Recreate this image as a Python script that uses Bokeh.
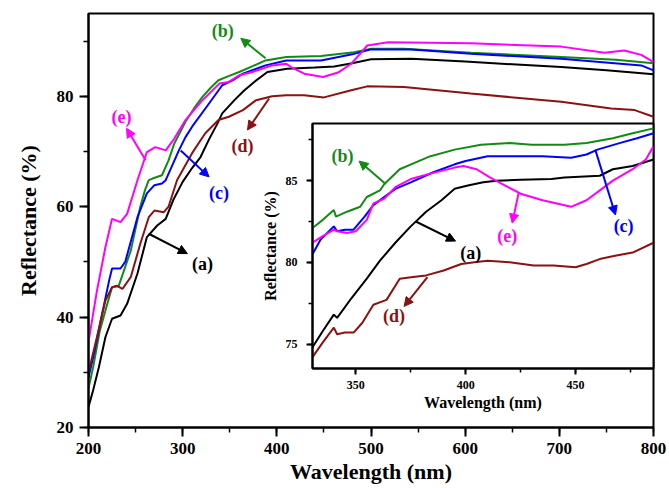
from bokeh.plotting import figure
from bokeh.models import Range1d, SingleIntervalTicker, Arrow, NormalHead, Label
from bokeh.layouts import column
from bokeh.embed import file_html
from bokeh.resources import INLINE

FONT = "Liberation Serif"

# ---------------- data (main panel) ----------------
wl_a = [200, 205, 211, 218, 225, 234, 241, 252, 262, 273, 282, 290, 300, 310, 319, 328, 337, 342, 355, 365,
        376, 390, 411, 440, 461, 480, 500, 543, 600, 650, 702, 750, 800]
r_a = [23.7, 26.8, 30.9, 36.4, 39.7, 40.3, 42.4, 47.9, 54.5, 56.6, 57.8, 61.2, 64.5, 67.0, 69.0, 72.2, 75.1, 76.9,
       79.3, 81.0, 82.6, 84.4, 85.0, 85.2, 85.4, 86.0, 86.7, 86.8, 86.3, 85.8, 85.3, 84.7, 84.0]

wl_b = [200, 205, 212, 218, 225, 232, 245, 255, 260, 264, 268, 278, 285, 291, 303, 312, 321, 330, 338, 348,
        360, 375, 388, 410, 447, 482, 500, 535, 606, 702, 760, 800]
r_b = [27.1, 31.0, 37.5, 41.2, 45.4, 45.6, 52.1, 60.0, 63.0, 64.8, 65.1, 65.7, 68.4, 71.4, 75.4, 77.8, 79.9, 81.6,
       82.9, 83.6, 84.4, 85.5, 86.5, 87.1, 87.3, 88.0, 88.6, 88.6, 87.9, 87.1, 86.6, 86.0]

wl_c = [200, 206, 213, 222, 225, 234, 239, 252, 262, 270, 278, 282, 296, 303, 310, 328, 342, 353, 364, 388,
        410, 447, 480, 500, 543, 606, 702, 787, 800]
r_c = [29.1, 33.5, 39.4, 46.7, 48.8, 48.8, 50.0, 58.1, 62.4, 63.9, 64.2, 64.8, 70.2, 72.6, 74.5, 78.7, 82.0, 82.9,
       84.1, 85.6, 86.5, 86.5, 87.6, 88.5, 88.5, 87.7, 86.8, 85.6, 84.7]

wl_d = [200, 209, 218, 225, 230, 236, 245, 255, 264, 270, 280, 285, 294, 310, 324, 338, 349, 364, 378, 395,
        410, 429, 450, 479, 496, 535, 606, 702, 755, 780, 800]
r_d = [30.0, 36.4, 43.0, 45.4, 45.7, 45.1, 47.3, 53.3, 58.1, 59.3, 59.0, 60.0, 64.8, 69.7, 73.3, 75.7, 76.3, 77.5,
       79.3, 80.0, 80.2, 80.2, 79.8, 81.1, 81.8, 81.7, 80.5, 79.0, 77.8, 77.5, 76.3]

wl_e = [200, 209, 218, 225, 234, 241, 252, 262, 271, 282, 291, 303, 321, 339, 349, 360, 374, 395, 410, 415,
        429, 449, 465, 479, 490, 496, 518, 606, 702, 748, 769, 787, 800]
r_e = [35.5, 44.8, 52.7, 57.8, 57.2, 58.7, 64.8, 69.9, 70.8, 70.2, 72.3, 75.7, 79.3, 82.3, 82.6, 83.8, 84.4, 85.6,
       85.9, 85.3, 84.1, 83.5, 84.3, 85.9, 88.0, 89.2, 89.8, 89.6, 89.0, 87.9, 88.3, 87.5, 86.2]

# ---------------- data (inset) ----------------
iwl_a = [330.3, 335, 340, 341.5, 348, 355, 361, 368, 375, 382, 389, 395, 401, 408, 414, 425, 439, 445, 461, 467,
         476, 485.5]
ir_a = [74.8, 75.8, 76.8, 76.6, 77.8, 79.0, 80.1, 81.2, 82.2, 83.1, 83.8, 84.5, 84.7, 84.9, 85.0, 85.05, 85.1,
        85.2, 85.3, 85.7, 85.9, 86.3]

iwl_b = [330.3, 335, 340, 341, 346, 352, 355, 361, 363, 370, 377, 384, 395, 407, 420, 430, 445, 455, 467, 476,
         485.5]
ir_b = [82.1, 82.6, 83.2, 82.8, 83.1, 83.4, 84.0, 84.4, 84.8, 85.7, 86.1, 86.5, 86.9, 87.2, 87.3, 87.2, 87.2, 87.3,
        87.6, 87.9, 88.2]

iwl_c = [330.3, 334, 340, 341.5, 345, 349, 354, 358, 362, 368, 375, 385, 395, 400, 410, 420, 435, 448, 455, 460,
         470, 478, 485.5]
ir_c = [80.5, 81.4, 82.2, 81.9, 82.0, 82.0, 82.8, 83.5, 83.9, 84.5, 84.9, 85.5, 86.0, 86.2, 86.5, 86.5, 86.5, 86.4,
        86.6, 86.9, 87.3, 87.6, 87.9]

iwl_d = [330.3, 335, 340, 341.5, 345, 349, 353, 358, 364, 370, 376, 382, 390, 398, 404, 410, 420, 431, 440, 450,
         455, 461, 468, 476, 485.5]
ir_d = [74.2, 75.1, 76.0, 75.6, 75.7, 75.7, 76.3, 77.4, 77.7, 79.0, 79.1, 79.2, 79.5, 79.9, 80.0, 80.1, 80.0, 79.8,
        79.8, 79.7, 79.9, 80.2, 80.4, 80.6, 81.2]

iwl_e = [330.3, 335, 340, 341.5, 346, 350, 355, 358, 363, 368, 375, 383, 389, 395, 399, 405, 411, 418, 425, 435,
         448, 455, 462, 467, 476, 482, 485.5]
ir_e = [81.2, 81.6, 82.0, 81.9, 81.8, 81.9, 82.6, 83.6, 83.9, 84.6, 85.1, 85.4, 85.6, 85.8, 85.9, 85.7, 85.2, 84.7,
        84.2, 83.8, 83.4, 83.8, 84.5, 85.0, 85.7, 86.3, 87.1]

series_names = ["(a)", "(b)", "(c)", "(d)", "(e)"]
colors = ["#000000", "#138a13", "#0000ff", "#8b1212", "#ff00ff"]

# annotation placement: label (x, y), arrow start (x, y), arrow end (x, y)
main_notes = [
    ((321, 49.6), (264, 55.1), (305, 51.5)),
    ((342.6, 91.8), (388, 86.9), (361.7, 90.5)),
    ((338.6, 62.5), (297.9, 70.2), (328, 65.4)),
    ((363.5, 71.0), (391.8, 79.6), (368.8, 73.9)),
    ((235, 76.2), (260.6, 68.4), (240.4, 74.2)),
]
inset_notes = [
    ((402.3, 80.6), (377.3, 82.5), (395.4, 81.3)),
    ((344, 86.5), (363.6, 84.8), (351.5, 86.2)),
    ((471.9, 82.2), (459, 86.9), (468.2, 82.9)),
    ((367.4, 76.7), (382.6, 79.1), (372, 77.3)),
    ((418.9, 81.6), (424.2, 84.3), (421.2, 82.4)),
]


def style_axes(fig, tick_font, label_font, tick_out, minor_out, lab_stand, axlab_stand_x, axlab_stand_y):
    for ax in (fig.xaxis[0], fig.yaxis[0]):
        ax.axis_line_width = 2
        ax.axis_line_color = "black"
        ax.major_tick_line_width = 2
        ax.minor_tick_line_width = 1.5
        ax.major_tick_in = 0
        ax.minor_tick_in = 0
        ax.major_tick_out = tick_out
        ax.minor_tick_out = minor_out
        ax.major_label_text_font = FONT
        ax.major_label_text_font_style = "bold"
        ax.major_label_text_font_size = tick_font
        ax.major_label_text_color = "black"
        ax.axis_label_text_font = FONT
        ax.axis_label_text_font_style = "bold"
        ax.axis_label_text_font_size = label_font
        ax.axis_label_text_color = "black"
        ax.major_label_standoff = lab_stand
    fig.xaxis[0].axis_label_standoff = axlab_stand_x
    fig.yaxis[0].axis_label_standoff = axlab_stand_y
    fig.xgrid.visible = False
    fig.ygrid.visible = False
    fig.outline_line_color = "black"
    fig.outline_line_width = 2


# ---------------- main figure ----------------
main = figure(width=669, height=488, x_range=Range1d(200, 800), y_range=Range1d(20, 95),
              output_backend="svg", toolbar_location=None,
              min_border_left=88, min_border_right=16, min_border_top=13, min_border_bottom=61,
              x_axis_label="Wavelength (nm)", y_axis_label="Reflectance (%)",
              background_fill_color="white", border_fill_color="white")
main.xaxis.ticker = SingleIntervalTicker(interval=100, num_minor_ticks=2)
main.yaxis.ticker = SingleIntervalTicker(interval=20, num_minor_ticks=2)
style_axes(main, "17px", "22px", 9, 5, 6, 2, 13)

main_data = [(wl_a, r_a), (wl_b, r_b), (wl_c, r_c), (wl_d, r_d), (wl_e, r_e)]
for (xs, ys), c in zip(main_data, colors):
    main.line(xs, ys, line_color=c, line_width=2)

for (lab, a0, a1), name, c in zip(main_notes, series_names, colors):
    main.add_layout(Arrow(end=NormalHead(size=9, fill_color=c, line_color=c),
                          x_start=a0[0], y_start=a0[1], x_end=a1[0], y_end=a1[1],
                          line_color=c, line_width=2))
    main.add_layout(Label(x=lab[0], y=lab[1], text=name, text_align="center", text_baseline="middle",
                          text_font=FONT, text_font_style="bold", text_font_size="18px", text_color=c))

# ---------------- inset figure ----------------
# (column layouts align plot borders horizontally, so the inset uses the same side borders as the main panel)
inset = figure(width=445, height=293, x_range=Range1d(330.3, 485.5), y_range=Range1d(73.5, 88.5),
               output_backend="svg", toolbar_location=None,
               min_border_left=88, min_border_right=16, min_border_top=2, min_border_bottom=46,
               x_axis_label="Wavelength (nm)", y_axis_label="Reflectance (%)",
               background_fill_color="white", border_fill_alpha=0)
inset.xaxis.ticker = SingleIntervalTicker(interval=50, num_minor_ticks=2)
inset.yaxis.ticker = SingleIntervalTicker(interval=5, num_minor_ticks=2)
style_axes(inset, "12px", "16px", 6, 4, 6, 2, 4)
inset.yaxis[0].major_label_standoff = 9

inset_data = [(iwl_a, ir_a), (iwl_b, ir_b), (iwl_c, ir_c), (iwl_d, ir_d), (iwl_e, ir_e)]
for (xs, ys), c in zip(inset_data, colors):
    inset.line(xs, ys, line_color=c, line_width=2)

for (lab, a0, a1), name, c in zip(inset_notes, series_names, colors):
    inset.add_layout(Arrow(end=NormalHead(size=9, fill_color=c, line_color=c),
                           x_start=a0[0], y_start=a0[1], x_end=a1[0], y_end=a1[1],
                           line_color=c, line_width=2))
    inset.add_layout(Label(x=lab[0], y=lab[1], text=name, text_align="center", text_baseline="middle",
                           text_font=FONT, text_font_style="bold", text_font_size="18px", text_color=c))

# place the inset over the main panel
inset.margin = (121 - 488, 0, 0, 224)

layout = column(main, inset, spacing=0)

open("out.html", "w").write(file_html(layout, INLINE))
